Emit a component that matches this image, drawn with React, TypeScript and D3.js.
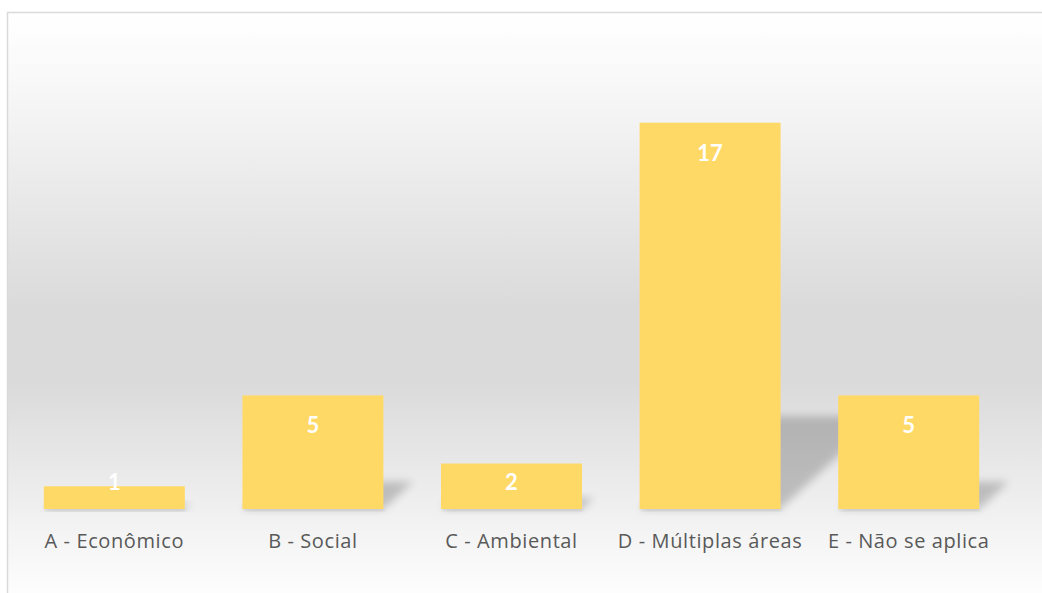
import React from "react";
import * as d3 from "d3";

const categories = ["A - Econômico", "B - Social", "C - Ambiental", "D - Múltiplas áreas", "E - Não se aplica"];
const values = [1, 5, 2, 17, 5];

const W = 1042;
const H = 593;
const bottom = 509;

export default function App() {
  const x = d3.scaleBand<string>().domain(categories).range([15, 1008]).paddingInner(0.29).paddingOuter(0.145);
  const y = d3.scaleLinear().domain([0, 18]).range([bottom, 100]);
  const bw = x.bandwidth();
  const k = 0.24;
  const s = 0.26;

  return (
    <svg width={W} height={H} style={{ position: "absolute", left: 0, top: 0 }}>
      <defs>
        <linearGradient id="bg" x1="0" y1="0" x2="0" y2="1">
          <stop offset="0" stopColor="#ffffff" />
          <stop offset="0.12" stopColor="#f8f8f8" />
          <stop offset="0.5" stopColor="#dadada" />
          <stop offset="0.62" stopColor="#dadada" />
          <stop offset="0.87" stopColor="#f3f3f3" />
          <stop offset="1" stopColor="#ffffff" />
        </linearGradient>
        <filter id="blur" x="-50%" y="-50%" width="200%" height="200%">
          <feGaussianBlur stdDeviation="4.5" />
        </filter>
        <filter id="blur2" x="-10%" y="-10%" width="120%" height="120%">
          <feGaussianBlur stdDeviation="1.5" />
        </filter>
      </defs>
      <rect x={0} y={0} width={W} height={H} fill="#ffffff" />
      <rect x={7.5} y={12.5} width={W + 10} height={H} fill="url(#bg)" stroke="#d9d9d9" strokeWidth={1.5} />
      <g>
        {categories.map((c, i) => {
          const x0 = x(c)!;
          const x1 = x0 + bw;
          const h = bottom - y(values[i]);
          const path = d3.path();
          path.moveTo(x0, bottom);
          path.lineTo(x1, bottom);
          path.lineTo(x1 + h * s, bottom - h * k);
          path.lineTo(x0 + h * s, bottom - h * k);
          path.closePath();
          return <path key={c} d={path.toString()} fill="#000" opacity={0.2} filter="url(#blur)" />;
        })}
      </g>
      <g>
        {categories.map((c) => (
          <rect key={c} x={x(c)! + 1} y={bottom - 1} width={bw} height={3} fill="#000" opacity={0.08} filter="url(#blur2)" />
        ))}
      </g>
      <g>
        {categories.map((c, i) => (
          <rect key={c} x={x(c)!} y={y(values[i])} width={bw} height={bottom - y(values[i])} fill="#FFD966" />
        ))}
      </g>
      <g fontFamily="Lato, 'Open Sans', sans-serif" fontWeight="bold" fontSize={22} fill="#ffffff" textAnchor="middle">
        {categories.map((c, i) => (
          <text key={c} x={x(c)! + bw / 2} y={Math.min(y(values[i]) + 38, bottom - 19)}>
            {values[i]}
          </text>
        ))}
      </g>
      <g fontFamily="'Open Sans', sans-serif" fontSize={20} letterSpacing={0.6} fill="#595959" textAnchor="middle">
        {categories.map((c) => (
          <text key={c} x={x(c)! + bw / 2} y={548}>
            {c}
          </text>
        ))}
      </g>
    </svg>
  );
}
